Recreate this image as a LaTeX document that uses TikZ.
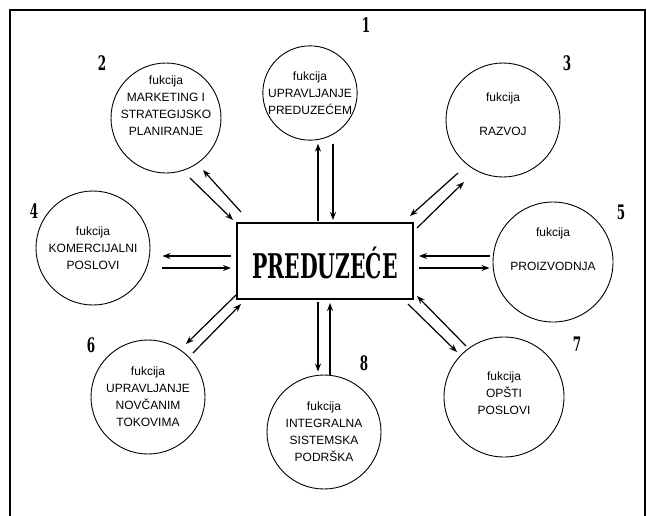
\documentclass[tikz,border=0pt]{standalone}
\usepackage{fontspec}
\setmainfont{Liberation Sans}
\newfontfamily\westfont{DejaVu Serif}
\usetikzlibrary{calc,arrows.meta}

\begin{document}
\begin{tikzpicture}[x=1pt,y=-1pt,
  func/.style={circle, draw, line width=0.9pt, minimum size=#1, inner sep=0pt,
    align=center, font=\fontsize{12}{17}\selectfont},
  ftext/.style={inner sep=0pt, align=center, font=\fontsize{12}{17}\selectfont},
  num/.style={font=\westfont\bfseries\fontsize{20}{20}\selectfont, inner sep=0pt, xscale=0.6, transform shape},
  flow/.style={line width=1.2pt, -{Stealth[length=8pt,width=6pt]}},
  center box/.style={draw, line width=2pt, minimum width=176pt, minimum height=76pt, inner sep=0pt}
]
\useasboundingbox (0,0) rectangle (647,515);

% outer frame, open at the bottom
\draw[line width=1.3pt] (10,530) -- (10,10) -- (645,10) -- (645,530);

% central block
\node[center box] (box) at (325,261) {};
\node[font=\westfont\bfseries\fontsize{34}{34}\selectfont, xscale=0.6, transform shape] (title) at (325,263) {PREDUZEĆE};

% function circles
\node[func=92pt]  (c1) at (310,93)  {fukcija\\UPRAVLJANJE\\PREDUZEĆEM};
\node[func=110pt] (c2) at (166,118) {};
\node[ftext] (t2) at ($(c2.center)+(0,-12)$) {fukcija\\MARKETING I\\STRATEGIJSKO\\PLANIRANJE};
\node[func=114pt] (c3) at (503,120) {};
\node[ftext] (t3) at ($(c3.center)+(0,-6)$) {fukcija\\[17pt]RAZVOJ};
\node[func=114pt] (c4) at (93,248)  {fukcija\\KOMERCIJALNI\\POSLOVI};
\node[func=120pt] (c5) at (553,262) {};
\node[ftext] (t5) at ($(c5.center)+(0,-13)$) {fukcija\\[17pt]PROIZVODNJA};
\node[func=114pt] (c6) at (148,397) {fukcija\\UPRAVLJANJE\\NOVČANIM\\TOKOVIMA};
\node[func=120pt] (c7) at (504,397) {};
\node[ftext] (t7) at ($(c7.center)+(0,-4)$) {fukcija\\OPŠTI\\POSLOVI};
\node[func=114pt] (c8) at (324,432) {fukcija\\INTEGRALNA\\SISTEMSKA\\PODRŠKA};

% function numbers
\node[num] (n1) at (366,25)  {1};
\node[num] (n2) at (102,63)  {2};
\node[num] (n3) at (567,63)  {3};
\node[num] (n4) at (34,211)  {4};
\node[num] (n5) at (621,212) {5};
\node[num] (n6) at (91,345)  {6};
\node[num] (n7) at (577,344) {7};
\node[num] (n8) at (364,363) {8};

% two-way flows between the block and each function
\draw[flow] ($(box.north)+(-7,-1)$) -- ($(c1.south)+(8,3)$);
\draw[flow] ($(c1.south)+(23,3)$) -- ($(box.north)+(8,-2)$);

\draw[flow] ($(box.south)+(-7,2)$) -- ($(c8.north)+(-6,-3)$);
\draw[flow] ($(c8.north)+(6,0)$) -- ($(box.south)+(5,3)$);

\draw[flow] ($(box.west)+(-5,-5)$) -- ($(c4.east)+(12,8)$);
\draw[flow] ($(c4.east)+(12,20)$) -- ($(box.west)+(-5,7)$);

\draw[flow] ($(c5.west)+(-3,-6)$) -- ($(box.east)+(5,-5)$);
\draw[flow] ($(box.east)+(5,7)$) -- ($(c5.west)+(-3,6)$);

\draw[flow] ($(c2.center)+(24,60)$) -- ($(box.north west)+(-3,-2)$);
\draw[flow] ($(box.north west)+(5,-10)$) -- ($(c2.center)+(37,52)$);

\draw[flow] ($(c3.center)+(-45,53)$) -- ($(box.north east)+(-4,-6)$);
\draw[flow] ($(box.north east)+(3,6)$) -- ($(c3.center)+(-39,62)$);

\draw[flow] ($(box.south west)+(0,-5)$) -- ($(c6.center)+(38,-53)$);
\draw[flow] ($(c6.center)+(45,-44)$) -- ($(box.south west)+(5,4)$);

\draw[flow] ($(box.south east)+(-6,4)$) -- ($(c7.center)+(-47,-45)$);
\draw[flow] ($(c7.center)+(-38,-51)$) -- ($(box.south east)+(3,-4)$);
\end{tikzpicture}
\end{document}
